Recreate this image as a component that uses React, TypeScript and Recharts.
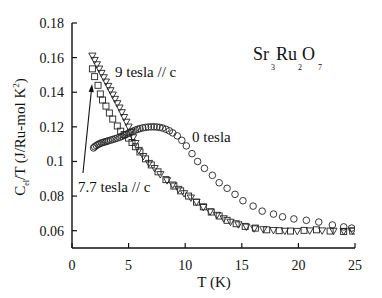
import React from 'react';
import { ScatterChart, Scatter, XAxis, YAxis, ReferenceLine } from 'recharts';

// ---- data ----
const t0 = [1.9, 2.0, 2.15, 2.3, 2.45, 2.6, 2.75, 2.9, 3.05, 3.2, 3.4, 3.6, 3.8, 4.0, 4.2, 4.4, 4.6, 4.8, 5.0, 5.2, 5.4, 5.6, 5.8, 6.0, 6.25, 6.5, 6.75, 7.0, 7.25, 7.5, 7.75, 8.0, 8.3, 8.6, 8.9, 9.3, 9.7, 10.1, 10.6, 11.1, 11.7, 12.4, 13.0, 13.7, 14.4, 15.1, 16.0, 16.8, 17.8, 18.6, 19.6, 20.7, 21.8, 23.0, 24.0, 24.7];
const c0 = [0.1078, 0.1085, 0.1092, 0.1098, 0.1103, 0.1107, 0.1110, 0.1113, 0.1116, 0.1119, 0.1123, 0.1127, 0.1131, 0.1135, 0.1140, 0.1145, 0.1151, 0.1157, 0.1163, 0.1169, 0.1175, 0.1181, 0.1186, 0.1190, 0.1194, 0.1197, 0.1199, 0.1200, 0.1200, 0.1199, 0.1197, 0.1193, 0.1186, 0.1177, 0.1165, 0.1148, 0.1122, 0.1090, 0.1045, 0.1000, 0.0960, 0.0920, 0.0877, 0.0845, 0.0810, 0.0773, 0.0742, 0.0713, 0.0696, 0.0680, 0.0668, 0.0660, 0.0650, 0.0633, 0.0622, 0.0615];

const t9 = [1.8, 2.0, 2.2, 2.4, 2.6, 2.8, 3.0, 3.2, 3.4, 3.6, 3.8, 4.0, 4.2, 4.4, 4.6, 4.8, 5.0, 5.2, 5.4, 5.6, 5.9, 6.3, 6.8, 7.3, 7.8, 8.4, 8.9, 9.4, 9.9, 10.5, 11.0, 11.6, 12.2, 12.8, 13.4, 14.0, 14.7, 15.4, 16.1, 16.9, 17.8, 18.8, 19.9, 21.0, 22.1, 23.1, 24.0, 24.8];
const c9 = [0.1610, 0.1585, 0.1560, 0.1535, 0.1510, 0.1485, 0.1460, 0.1435, 0.1410, 0.1385, 0.1360, 0.1335, 0.1310, 0.1283, 0.1255, 0.1228, 0.1200, 0.1170, 0.1138, 0.1105, 0.1065, 0.1030, 0.0990, 0.0960, 0.0925, 0.0890, 0.0865, 0.0840, 0.0815, 0.0790, 0.0765, 0.0735, 0.0710, 0.0690, 0.0670, 0.0650, 0.0635, 0.0622, 0.0612, 0.0607, 0.0602, 0.0598, 0.0597, 0.0600, 0.0600, 0.0598, 0.0597, 0.0600];

const t77 = [1.8, 2.0, 2.3, 2.5, 2.7, 3.0, 3.3, 3.6, 4.0, 4.3, 4.6, 5.0, 5.3, 5.6, 6.0, 6.5, 7.0, 7.6, 8.3, 9.0, 9.6, 10.3, 11.0, 11.6, 12.3, 13.0, 13.7, 14.5, 15.3, 16.2, 17.2, 18.3, 19.3, 20.5, 21.6, 22.8, 24.0, 24.8];
const c77 = [0.1535, 0.1490, 0.1440, 0.1390, 0.1355, 0.1320, 0.1280, 0.1245, 0.1205, 0.1175, 0.1155, 0.1135, 0.1110, 0.1085, 0.1055, 0.1015, 0.0980, 0.0940, 0.0895, 0.0858, 0.0830, 0.0800, 0.0765, 0.0738, 0.0708, 0.0685, 0.0660, 0.0640, 0.0625, 0.0615, 0.0605, 0.0600, 0.0598, 0.0602, 0.0605, 0.0598, 0.0595, 0.0598];

const xTicks = [0, 5, 10, 15, 20, 25];
const yTicks = [0.06, 0.08, 0.1, 0.12, 0.14, 0.16, 0.18];
const topTicks = [5, 10, 15, 20];
const rightTicks = [0.06, 0.08, 0.1, 0.12, 0.14, 0.16];
const xDomain = [0, 25];
const yDomain = [0.05, 0.18];
const arrowSeg = [{ x: 0.97, y: 0.0933 }, { x: 1.77, y: 0.1447 }];

// ---- layout ----
const W = 382;
const H = 298;
const PL = 72;
const PT = 23;
const PR = 355;
const PB = 248;
const FONT = "'Liberation Serif', 'DejaVu Serif', serif";
const INK = '#111';
const TS = { fontFamily: FONT };

const zip = (t: number[], c: number[]) => t.map((x, i) => ({ x, y: c[i] }));
const d0 = zip(t0, c0);
const d9 = zip(t9, c9);
const d77 = zip(t77, c77);

const Circ = (p: any) => (
  <circle cx={p.cx} cy={p.cy} r={3.3} fill="none" stroke="#222" strokeWidth={0.9} />
);
const Tri = (p: any) => (
  <polygon
    points={`${p.cx - 3.6},${p.cy - 2.8} ${p.cx + 3.6},${p.cy - 2.8} ${p.cx},${p.cy + 3.6}`}
    fill="none"
    stroke="#222"
    strokeWidth={0.9}
  />
);
const Sq = (p: any) => (
  <rect x={p.cx - 3} y={p.cy - 3} width={6} height={6} fill="none" stroke="#222" strokeWidth={0.9} />
);

const LeftTick = (p: any) => (
  <g>
    <line x1={PL} x2={PL + 5} y1={p.y} y2={p.y} stroke={INK} strokeWidth={1.2} />
    <text x={PL - 8} y={p.y + 5} textAnchor="end" fontSize={14} style={TS} fill={INK}>
      {String(p.payload.value)}
    </text>
  </g>
);
const BottomTick = (p: any) => (
  <g>
    <line x1={p.x} x2={p.x} y1={PB} y2={PB - 5} stroke={INK} strokeWidth={1.2} />
    <text x={p.x} y={PB + 22} textAnchor="middle" fontSize={14} style={TS} fill={INK}>
      {String(p.payload.value)}
    </text>
  </g>
);
const TopTick = (p: any) => (
  <line x1={p.x} x2={p.x} y1={PT} y2={PT + 5} stroke={INK} strokeWidth={1.2} />
);
const RightTick = (p: any) => (
  <line x1={PR} x2={PR - 5} y1={p.y} y2={p.y} stroke={INK} strokeWidth={1.2} />
);

const Arrow = (p: any) => {
  const { x1, y1, x2, y2 } = p;
  const a = Math.atan2(y2 - y1, x2 - x1);
  const L = 8;
  const w = 2.6;
  const bx = x2 - L * Math.cos(a);
  const by = y2 - L * Math.sin(a);
  const px = -Math.sin(a) * w;
  const py = Math.cos(a) * w;
  return (
    <g>
      <line x1={x1} y1={y1} x2={bx} y2={by} stroke={INK} strokeWidth={1.1} />
      <polygon points={`${x2},${y2} ${bx + px},${by + py} ${bx - px},${by - py}`} fill={INK} />
    </g>
  );
};

const axisStroke = { stroke: INK, strokeWidth: 1.4 };

export default function App() {
  return (
    <div style={{ position: 'absolute', left: 0, top: 0, width: W, height: H, background: '#fff', fontFamily: FONT }}>
      <ScatterChart width={W} height={H} margin={{ top: PT, right: W - PR, bottom: 0, left: 0 }}>
        <XAxis
          type="number"
          dataKey="x"
          domain={xDomain}
          ticks={xTicks}
          interval={0}
          height={H - PB}
          axisLine={axisStroke}
          tickLine={false}
          tick={<BottomTick />}
          allowDataOverflow
        />
        <XAxis
          xAxisId="top"
          orientation="top"
          type="number"
          domain={xDomain}
          ticks={topTicks}
          interval={0}
          height={0}
          axisLine={axisStroke}
          tickLine={false}
          tick={<TopTick />}
        />
        <YAxis
          type="number"
          dataKey="y"
          domain={yDomain}
          ticks={yTicks}
          interval={0}
          width={PL}
          axisLine={axisStroke}
          tickLine={false}
          tick={<LeftTick />}
          allowDataOverflow
        />
        <YAxis
          yAxisId="right"
          orientation="right"
          type="number"
          domain={yDomain}
          ticks={rightTicks}
          interval={0}
          width={0}
          axisLine={axisStroke}
          tickLine={false}
          tick={<RightTick />}
        />
        <Scatter data={d0} shape={<Circ />} isAnimationActive={false} />
        <Scatter data={d9} shape={<Tri />} isAnimationActive={false} />
        <Scatter data={d77} shape={<Sq />} isAnimationActive={false} />
        <ReferenceLine segment={arrowSeg} shape={<Arrow />} ifOverflow="visible" />
      </ScatterChart>
      <svg
        width={W}
        height={H}
        style={{ position: 'absolute', left: 0, top: 0, pointerEvents: 'none', fontFamily: FONT }}
        fill={INK}
      >
        <text x={115} y={77} fontSize={15} style={TS}>9 tesla // c</text>
        <text x={192} y={142} fontSize={15} style={TS}>0 tesla</text>
        <text x={78} y={192} fontSize={15} style={TS}>7.7 tesla // c</text>
        <text x={214} y={287} fontSize={15} textAnchor="middle" style={TS}>T (K)</text>
        <g fontSize={18} style={TS}>
          <text x={253} y={60} style={TS}>Sr</text>
          <text x={271} y={70} fontSize={8} style={TS}>3</text>
          <text x={276} y={60} style={TS}>Ru</text>
          <text x={298} y={70} fontSize={8} style={TS}>2</text>
          <text x={302} y={60} style={TS}>O</text>
          <text x={318} y={70} fontSize={8} style={TS}>7</text>
        </g>
        <text transform="translate(25,137) rotate(-90)" textAnchor="middle" fontSize={15} style={TS}>
          <tspan>C</tspan>
          <tspan fontSize={8} dy={4}>el</tspan>
          <tspan dy={-4}>/T (J/Ru-mol K</tspan>
          <tspan fontSize={9} dy={-6}>2</tspan>
          <tspan dy={6}>)</tspan>
        </text>
      </svg>
    </div>
  );
}
